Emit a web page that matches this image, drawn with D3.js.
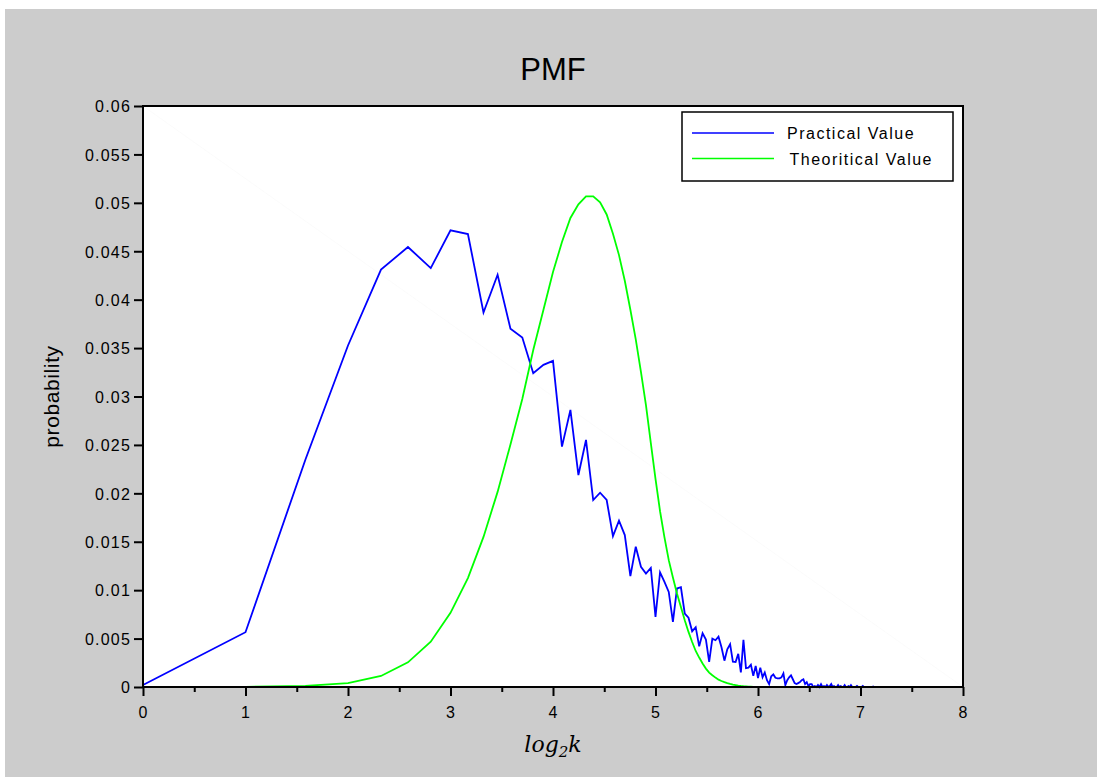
<!DOCTYPE html>
<html>
<head>
<meta charset="utf-8">
<script src="https://cdn.jsdelivr.net/npm/d3@7"></script>
<style>
    body { margin: 0; background: #fff; }
    #chart { width: 1097px; height: 778px; }
    text { font-family: "Liberation Sans", Arial, sans-serif; }
</style>
</head>
<body>
<div id="chart"></div>
<script>

// k = 1 .. 140, plotted at log2(k)
let kValues = d3.range(1, 141);

// measured pmf (blue)
let practical = [
    0.0002, 0.00566, 0.0235, 0.03527, 0.0431, 0.04544, 0.04326, 0.04716, 0.04678, 0.03868,
    0.04257, 0.03699, 0.0361, 0.03241, 0.03327, 0.03368, 0.02482, 0.02861, 0.02189, 0.02551,
    0.01931, 0.02006, 0.01931, 0.01558, 0.01717, 0.01569, 0.01145, 0.01448, 0.01241, 0.01172,
    0.0123, 0.00724, 0.01185, 0.01086, 0.00982, 0.00672, 0.01017, 0.0103, 0.00759, 0.00715,
    0.00575, 0.00618, 0.0042, 0.00555, 0.0049, 0.00259, 0.005, 0.00483, 0.0052, 0.0041,
    0.00272, 0.0039, 0.00442, 0.00262, 0.00259, 0.00342, 0.0015, 0.00487, 0.00195, 0.002,
    0.0023, 0.00115, 0.00218, 0.00092, 0.002, 0.001, 0.0015, 0.0007, 0.0003, 0.0011,
    0.0013, 0.00095, 0.0009, 0.0009, 0.001, 0.0014, 0.0002, 0.0007, 0.001, 0.0012,
    0.0008, 0.0004, 0.0003, 0.0004, 0.0005, 0.0007, 0.0008, 0.0003, 0.0005, 0.0001,
    0.0003, 0.0003, 0, 0.0001, 0, 0.0002, 0, 0.0003, 0, 0.0001,
    0, 0.0002, 0, 0.0001, 0.0003, 0, 0.0001, 0, 0, 0.0002,
    0, 0.0001, 0, 0, 0.0002, 0, 0, 0.0001, 0, 0.0002,
    0, 0, 0, 0, 0.0001, 0, 0, 0, 0, 0.0001,
    0, 0, 0, 0, 0, 0, 0, 0, 0, 0.0001
];

// theoretical pmf (green)
let theoretical = [
    0, 0.00001, 0.00012, 0.0004, 0.00114, 0.00255, 0.00468, 0.00766, 0.01125, 0.0155,
    0.02015, 0.02505, 0.02975, 0.0348, 0.03896, 0.04285, 0.04595, 0.04844, 0.04985, 0.05067,
    0.05067, 0.05005, 0.0488, 0.0468, 0.0446, 0.04195, 0.03896, 0.0359, 0.03255, 0.0291,
    0.0252, 0.0215, 0.01815, 0.01545, 0.0131, 0.01131, 0.00966, 0.00827, 0.0069, 0.00569,
    0.00465, 0.00372, 0.00304, 0.00242, 0.0019, 0.00149, 0.00121, 0.00097, 0.00076, 0.00062,
    0.0005, 0.0004, 0.00032, 0.00025, 0.0002, 0.00015, 0.00011, 0.00008, 0.00006, 0.00004,
    0.00003, 0.00002, 0.00001, 0.00001, 0, 0, 0, 0, 0, 0,
    0, 0, 0, 0, 0, 0, 0, 0, 0, 0,
    0, 0, 0, 0, 0, 0, 0, 0, 0, 0,
    0, 0, 0, 0, 0, 0, 0, 0, 0, 0,
    0, 0, 0, 0, 0, 0, 0, 0, 0, 0,
    0, 0, 0, 0, 0, 0, 0, 0, 0, 0,
    0, 0, 0, 0, 0, 0, 0, 0, 0, 0,
    0, 0, 0, 0, 0, 0, 0, 0, 0, 0
];

let xTicks = [0, 1, 2, 3, 4, 5, 6, 7, 8];
let xMinorTicks = [0.5, 1.5, 2.5, 3.5, 4.5, 5.5, 6.5, 7.5];
let yTicks = [0, 0.005, 0.01, 0.015, 0.02, 0.025, 0.03, 0.035, 0.04, 0.045, 0.05, 0.055, 0.06];
let yTickLabels = ["0", "0.005", "0.01", "0.015", "0.02", "0.025", "0.03", "0.035", "0.04", "0.045", "0.05", "0.055", "0.06"];

let seriesNames = ["Practical Value", "Theoritical Value"];
let seriesColors = ["#0000ff", "#00ff00"];


class PmfVis {

    constructor(parentElement) {
        this.parentElement = parentElement;
        this.initVis();
    }

    initVis() {
        let vis = this;

        vis.W = 1097;
        vis.H = 778;
        vis.margin = {top: 106, right: 134, bottom: 91, left: 143};
        vis.width = vis.W - vis.margin.left - vis.margin.right;
        vis.height = vis.H - vis.margin.top - vis.margin.bottom;

        vis.svg = d3.select("#" + vis.parentElement).append("svg")
            .attr("width", vis.W)
            .attr("height", vis.H);

        // grey figure background
        vis.svg.append("rect")
            .attr("x", 5).attr("y", 9)
            .attr("width", vis.W - 5).attr("height", vis.H - 10)
            .attr("fill", "#cccccc");

        vis.g = vis.svg.append("g")
            .attr("transform", `translate(${vis.margin.left}, ${vis.margin.top})`);

        vis.g.append("rect")
            .attr("width", vis.width).attr("height", vis.height)
            .attr("fill", "#ffffff");

        // faint diagonal seen in the original render
        vis.g.append("line")
            .attr("x1", 0).attr("y1", 0)
            .attr("x2", vis.width).attr("y2", vis.height)
            .attr("stroke", "#f9f9f9")
            .attr("stroke-width", 0.7);

        vis.x = d3.scaleLinear().domain([0, 8]).range([0, vis.width]);
        vis.y = d3.scaleLinear().domain([0, 0.06]).range([vis.height, 0]);

        // title
        vis.svg.append("text")
            .attr("x", vis.margin.left + vis.width / 2)
            .attr("y", 80)
            .attr("text-anchor", "middle")
            .style("font-size", "31px")
            .text("PMF");

        vis.wrangleData();
    }

    wrangleData() {
        let vis = this;

        vis.series = [practical, theoretical].map((vals, i) => ({
            name: seriesNames[i],
            color: seriesColors[i],
            points: vals.map((v, j) => ({x: Math.log2(kValues[j]), y: v}))
        }));

        vis.updateVis();
    }

    updateVis() {
        let vis = this;

        let line = d3.line()
            .x(d => vis.x(d.x))
            .y(d => vis.y(d.y));

        vis.g.selectAll(".series")
            .data(vis.series)
            .enter().append("path")
            .attr("class", "series")
            .attr("d", d => line(d.points))
            .attr("fill", "none")
            .attr("stroke", d => d.color)
            .attr("stroke-width", 1.8)
            .attr("stroke-linejoin", "miter");

        // axes
        let xAxis = d3.axisBottom(vis.x)
            .tickValues(xTicks)
            .tickFormat(d3.format("d"))
            .tickSize(9)
            .tickSizeOuter(0)
            .tickPadding(11);

        let xMinor = d3.axisBottom(vis.x)
            .tickValues(xMinorTicks)
            .tickFormat("")
            .tickSize(5)
            .tickSizeOuter(0);

        let yAxis = d3.axisLeft(vis.y)
            .tickValues(yTicks)
            .tickFormat((d, i) => yTickLabels[i])
            .tickSize(9)
            .tickSizeOuter(0)
            .tickPadding(3);

        let gx = vis.g.append("g")
            .attr("transform", `translate(0, ${vis.height})`)
            .call(xAxis);
        let gxm = vis.g.append("g")
            .attr("transform", `translate(0, ${vis.height})`)
            .call(xMinor);
        let gy = vis.g.append("g").call(yAxis);

        [gx, gxm, gy].forEach(a => {
            a.select(".domain").remove();
            a.selectAll(".tick line").attr("stroke", "#000").attr("stroke-width", 2);
            a.selectAll(".tick text")
                .attr("fill", "#000")
                .style("font-size", "16px")
                .style("letter-spacing", "1.2px")
                .style("font-family", "'Liberation Sans', Arial, sans-serif");
        });
        gy.selectAll(".tick text").attr("dy", "0.36em");

        // plot frame
        vis.g.append("rect")
            .attr("width", vis.width).attr("height", vis.height)
            .attr("fill", "none")
            .attr("stroke", "#000")
            .attr("stroke-width", 2);

        // axis labels
        vis.svg.append("text")
            .attr("transform", `translate(59, ${vis.margin.top + vis.height / 2}) rotate(-90)`)
            .attr("text-anchor", "middle")
            .style("font-size", "21px")
            .style("letter-spacing", "0.6px")
            .text("probability");

        let xl = vis.svg.append("text")
            .attr("x", vis.margin.left + vis.width / 2)
            .attr("y", 752)
            .attr("text-anchor", "middle")
            .style("font-family", "'DejaVu Serif', 'Liberation Serif', serif")
            .style("font-style", "italic")
            .style("font-size", "22px");
        xl.append("tspan").text("log");
        xl.append("tspan").attr("dy", 5).style("font-size", "15px").text("2");
        xl.append("tspan").attr("dy", -5).text("k");

        // legend
        let lg = vis.svg.append("g").attr("transform", "translate(682, 112)");
        lg.append("rect")
            .attr("width", 271).attr("height", 69)
            .attr("fill", "#fff")
            .attr("stroke", "#000")
            .attr("stroke-width", 1.5);

        let items = lg.selectAll(".item")
            .data(vis.series)
            .enter().append("g")
            .attr("class", "item")
            .attr("transform", (d, i) => `translate(0, ${21 + i * 25.5})`);

        items.append("line")
            .attr("x1", 10).attr("x2", 92)
            .attr("stroke", d => d.color)
            .attr("stroke-width", 1.7);

        items.append("text")
            .attr("x", (d, i) => 105 + i * 2.5)
            .attr("y", 6)
            .style("font-size", "16px")
            .style("letter-spacing", "1.5px")
            .text(d => d.name);
    }
}

new PmfVis("chart");

</script>
</body>
</html>
